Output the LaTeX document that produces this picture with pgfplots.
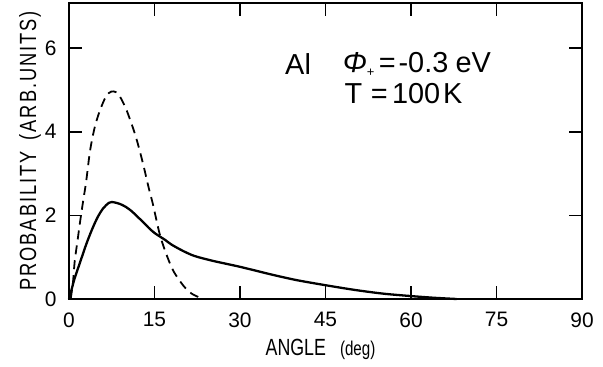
\documentclass[border=0pt]{standalone}
\usepackage{fontspec}
\setmainfont{Liberation Sans}
\newfontfamily\cond{Liberation Sans}[FakeStretch=0.76]
\newfontfamily\ylab{Liberation Sans}[FakeStretch=0.78, LetterSpace=8]
\usepackage{pgfplots}
\pgfplotsset{compat=1.18}
\begin{document}
\begin{tikzpicture}
\begin{axis}[
  scale only axis,
  width=513bp, height=296bp,
  xmin=0, xmax=90, ymin=0, ymax=7.08,
  xtick={0,15,30,45,60,75,90},
  xticklabels={0,15,30,45,60,75,90},
  ytick={0,2,4,6},
  yticklabels={0,2,4,6},
  tick align=inside, tick pos=both,
  major tick length=13bp,
  axis line style={line width=1.8pt},
  every tick/.style={line width=1.6pt, black},
  tick label style={font=\fontsize{21}{22}\selectfont},
  xticklabel style={yshift=-10bp},
  yticklabel style={xshift=-9bp},
  xlabel={ANGLE\hspace{0.6em}{\fontsize{20}{21}\selectfont(deg)}},
  xlabel style={font=\cond\fontsize{23.5}{24}\selectfont, yshift=-5bp, xshift=-5bp},
  ylabel={PROBABILITY\hspace{0.5em}(ARB.UNITS)},
  ylabel style={font=\ylab\fontsize{23.5}{24}\selectfont, yshift=-3bp},
  clip=false,
]
\addplot[line width=2.3pt, black, smooth] coordinates {
(0,0)(0.5,0.25)(1,0.5)(2,0.9)(3,1.3)(4,1.65)(5,1.95)(6,2.17)(7,2.3)(7.5,2.32)(8,2.31)(9,2.27)(10,2.2)(11,2.1)(12,1.97)(13,1.84)(14,1.7)(15,1.58)(16,1.49)(17,1.40)(18,1.3)(20,1.15)(22,1.03)(25,0.92)(28,0.83)(30,0.77)(33,0.67)(36,0.57)(40,0.45)(45,0.33)(50,0.22)(55,0.13)(60,0.07)(64,0.03)(68,0.0)
};
\addplot[line width=1.8pt, black, smooth, dash pattern=on 9bp off 6bp] coordinates {
(0.3,0)(0.7,0.4)(1,0.9)(1.5,1.4)(2,1.9)(2.5,2.36)(3,2.8)(3.7,3.55)(4.5,4.1)(5.4,4.5)(6.5,4.85)(7.4,4.96)(8.2,4.95)(8.9,4.85)(10,4.55)(11.2,4.1)(12,3.75)(13,3.23)(14,2.65)(14.7,2.28)(15.9,1.56)(17,1.1)(18.2,0.7)(19.5,0.42)(20.5,0.25)(21.5,0.13)(22.8,0.04)(23.3,0)
};
\node[anchor=west, inner sep=0pt, font=\fontsize{29}{30}\selectfont] at (axis cs:37.9,5.61) {Al};
\node[anchor=west, inner sep=0pt, font=\fontsize{29}{30}\selectfont] at (axis cs:48.0,5.61) {\textit{Φ}\raisebox{-0.3ex}{\fontsize{13}{13}\selectfont +}\hspace{0.15em}=\hspace{0.1em}-0.3\hspace{0.25em}eV};
\node[anchor=west, inner sep=0pt, font=\fontsize{29}{30}\selectfont] at (axis cs:48.3,4.92) {T\hspace{0.3em}=\hspace{0.15em}100\hspace{0.1em}K};
\end{axis}
\pgfresetboundingbox
\path[use as bounding box] (current axis.south west)+(-69bp,-67bp) rectangle ([xshift=21bp,yshift=3bp]current axis.north east);
\end{tikzpicture}
\end{document}
